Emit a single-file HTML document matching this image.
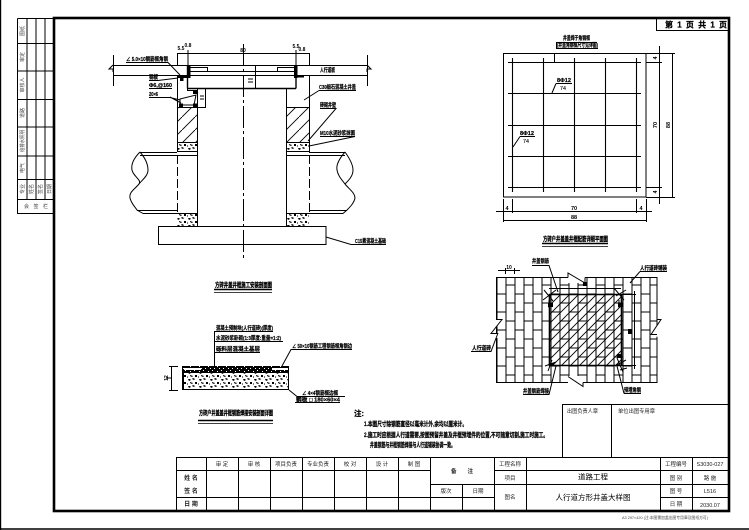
<!DOCTYPE html>
<html lang="zh">
<head>
<meta charset="utf-8">
<title>人行道方形井盖大样图</title>
<style>
html,body{margin:0;padding:0;background:#fff;width:749px;height:530px;overflow:hidden}
svg{display:block}
text{font-family:"Liberation Sans","Noto Sans CJK SC",sans-serif;fill:#000}
.b{font-weight:700;font-size:6.5px;stroke:#000;stroke-width:.25}
.s{font-size:5.5px;font-weight:700;stroke:#000;stroke-width:.2}
.n{font-size:5.5px;font-weight:400;fill:#222}
.d{font-size:5.5px;font-weight:700}
.c{font-size:6.5px;font-weight:700;fill:#000;stroke:#000;stroke-width:.3}
.g{font-size:5px;fill:#444}
.m{text-anchor:middle}
.l{fill:none;stroke:#000;stroke-width:1}
</style>
</head>
<body>
<svg width="749" height="530" viewBox="0 0 749 530" xmlns="http://www.w3.org/2000/svg">
<defs>
<pattern id="brick" patternUnits="userSpaceOnUse" x="496.5" y="275.5" width="18" height="18">
<path d="M0.5 0V18M9.5 0V18M0 0.5H9.5M9.5 9.5H18" fill="none" stroke="#000" stroke-width="1"/>
</pattern>
<pattern id="h1" patternUnits="userSpaceOnUse" width="9" height="9">
<path d="M-1 10L10 -1M-1 1L1 -1M8 10L10 8" fill="none" stroke="#000" stroke-width=".9"/>
</pattern>
<pattern id="h2" patternUnits="userSpaceOnUse" width="13" height="13">
<path d="M-1 14L14 -1" fill="none" stroke="#000" stroke-width=".9"/>
</pattern>
<pattern id="gr" patternUnits="userSpaceOnUse" width="11" height="7">
<rect width="11" height="7" fill="#fff"/>
<path d="M1 1l2 0 1 1-2 1zM6 0l2 1-1 1-2-1zM3 4l3 1-1 1-2-1zM8 4l2 0 0 2-2 0zM0 5l1 1-1 1z" fill="#000"/>
</pattern>
<pattern id="gd" patternUnits="userSpaceOnUse" width="9" height="5">
<rect width="9" height="5" fill="#000"/>
<path d="M1 1h1v1h-1zM5 0h1v1h-1zM3 3h1v1h-1zM7 3h1v1h-1z" fill="#fff"/>
</pattern>
</defs>
<rect width="749" height="530" fill="#fff"/>

<!-- page edges -->
<path d="M0.5 0V530M0 529H749" fill="none" stroke="#000" stroke-width="1.4"/>

<!-- left strip -->
<g class="l">
<path d="M17.5 18.5H54M17.5 18.5V213.5H54M27 18.5V199M36 18.5V199M45 18.5V199M17.5 43.5H54M17.5 71H54M17.5 99.5H54M17.5 127H54M17.5 156H54M17.5 179.5H54M17.5 199.5H54"/>
</g>
<g class="g">
<text transform="translate(24,31) rotate(-90)" class="g m">图纸</text>
<text transform="translate(24,57) rotate(-90)" class="g m">审定</text>
<text transform="translate(24,85) rotate(-90)" class="g m">审核人</text>
<text transform="translate(24,113) rotate(-90)" class="g m">道路</text>
<text transform="translate(24,141) rotate(-90)" class="g m" textLength="22" lengthAdjust="spacingAndGlyphs">给排水照明</text>
<text transform="translate(24,168) rotate(-90)" class="g m">电气</text>
<text transform="translate(24,189) rotate(-90)" class="g m">专业</text>
<text transform="translate(33,189) rotate(-90)" class="g m">姓名</text>
<text transform="translate(42,189) rotate(-90)" class="g m">签名</text>
<text transform="translate(51,189) rotate(-90)" class="g m">日期</text>
<text x="36" y="208" class="g m" textLength="24" lengthAdjust="spacing">会签栏</text>
</g>

<!-- main frame -->
<rect x="54" y="18" width="675" height="493" fill="none" stroke="#000" stroke-width="2.6"/>

<!-- page number box -->
<path class="l" d="M656.5 18V30.5H729"/>
<text x="665" y="27.5" class="b" style="font-size:8px" textLength="62" lengthAdjust="spacing">第 1 页   共 1 页</text>

<!-- LEFT MAIN DETAIL -->
<rect x="177.5" y="107.5" width="19.5" height="35" fill="url(#h2)"/>
<rect x="286.5" y="107.5" width="22.5" height="35" fill="url(#h2)"/>
<rect x="177.5" y="142.5" width="19.5" height="9" fill="url(#gr)"/>
<rect x="286.5" y="142.5" width="22.5" height="9" fill="url(#gr)"/>
<rect x="177.5" y="213.5" width="19.5" height="12.5" fill="url(#gr)"/>
<rect x="286.5" y="213.5" width="22.5" height="12.5" fill="url(#gr)"/>
<g class="l">
<path d="M113 65.5H367M113 75.5H187M297 75.5H367M113.5 55V86M367.5 55V86"/>
<path d="M113 65L109 69H113L113 72" />
<path d="M367 65L371 69H367L367 72"/>
<path d="M187.5 65V88.5M296 65V88.5" style="stroke-width:1.4"/>
<path d="M187 88.5H296" style="stroke-width:1.6"/>
<path d="M190 71.5H296M187 75.5H296M190 67.5H207.5V71M277.5 71V67.5H294"/>
<path d="M255.5 66V88M248 79h5M248 82h5"/>
<path d="M177.5 75V152M197.5 88V226M286.5 88V226M309.5 75V152M187.5 88V90.5H197M177 107.5H197M286 107.5H309.5M177 142.5H197M286 142.5H309.5"/>
<path d="M177 151.5H197M286 151.5H309M177 155.5H197M286 155.5H309M177 213.5H197M286 213.5H309"/>
<path d="M140 152.5H177M140 155.5H177M309 152.5H345M309 155.5H345M143 213.5H177M137 210.5H177M309 213.5H343M309 210.5H347"/>
<path d="M140 152C133 159 131 165 132 170C133 176 142 180 139 184C134 190 129 192 130 198C131 203 135 207 137 210L143 213.5"/>
<path d="M140 152C146 159 148 165 148 170C148 176 142 180 139 184"/>
<path d="M345 152C339 159 336 165 337 170C338 176 342 180 345 184C350 190 355 193 355 198C354 203 350 207 347 210L343 213.5"/>
<path d="M345 152C350 159 353 165 353 170C353 176 349 180 345 184"/>
<path d="M177.5 155V213M309.5 155V213" stroke-dasharray="9 3"/>
<path d="M243.5 44V260" stroke-dasharray="22 3 3 3"/>
<rect x="158.5" y="226.5" width="167.5" height="18"/>
<path d="M177 53.5H309M177.5 53V65M188 50V65M296 50V65M309.5 53V65"/>
<path d="M197 107.5H206M205.5 88V108M200 96h4M200 99h4"/>
<path d="M326 237L351 244.5H386"/>
<path d="M126 62.5H168L180 75"/>
<path d="M149 80.5H158L178 78M149 88.5H172M149 97.5H170L180 100M170 97L181 103"/>
<path d="M180 99L196 95L194 105L180 105Z"/>
<path d="M319 90.5H356M319 90.5L304 100M320 108.5H336L308 141M320 136.5H355L309 146"/>
</g>
<path d="M187 65h3.5v13h-3.5zM294 65h3.5v13h-3.5zM178 75h12v3h-12zM294 75h10v2.5h-10zM180 78h3.5v3h-3.5zM193 90h4v4h-4zM179 103.5h4v4h-4zM193 103.5h4v4h-4z" fill="#000"/>
<text x="181" y="50" class="d m" style="font-size:5px">5.5</text>
<text x="188" y="47" class="d m" style="font-size:5px">0.8</text>
<text x="243" y="52" class="d m" style="font-size:5px">80</text>
<text x="296" y="48" class="d m" style="font-size:5px">5.5</text>
<text x="302" y="51" class="d m" style="font-size:5px">0.8</text>
<text x="126" y="61" class="s" textLength="42" lengthAdjust="spacingAndGlyphs">∠ 5.0×10钢筋框角钢</text>
<text x="149" y="79" class="s" textLength="9" lengthAdjust="spacingAndGlyphs">钢板</text>
<text x="149" y="87" class="s" textLength="23" lengthAdjust="spacingAndGlyphs">Φ6,@160</text>
<text x="149" y="96" class="s" textLength="9" lengthAdjust="spacingAndGlyphs">20×6</text>
<text x="320" y="72" class="s" textLength="15" lengthAdjust="spacingAndGlyphs">人行道板</text>
<text x="319" y="89" class="s" textLength="37" lengthAdjust="spacingAndGlyphs">C30细石混凝土井盖</text>
<text x="320" y="107" class="s" textLength="16" lengthAdjust="spacingAndGlyphs">砖砌井壁</text>
<text x="320" y="135" class="s" textLength="35" lengthAdjust="spacingAndGlyphs">M10水泥砂浆抹面</text>
<text x="355" y="243" class="s" textLength="31" lengthAdjust="spacingAndGlyphs">C15素混凝土基础</text>
<text x="215" y="287" class="c" textLength="57" lengthAdjust="spacingAndGlyphs">方砖井盖井框施工安装剖面图</text>
<path d="M214 289.5H272" stroke="#000" stroke-width="1.4"/>
<path d="M214 292.5H272" stroke="#000" stroke-width=".8"/>

<!-- PLAN TOP RIGHT -->
<g class="l">
<rect x="503.5" y="53.5" width="142.5" height="143.5"/>
<path style="stroke-width:1.1" d="M512.5 58V192M543.5 58V192M574.5 58V192M605.5 58V192M636.5 58V192M508 62.5H641M508 93.5H641M508 125.5H641M508 156.5H641M508 187.5H641"/>
<path d="M659.5 46V204M672.5 53V197M646 53.5H675M646 62.5H662M646 187.5H662M646 197.5H675"/>
<path d="M496 211.5H652M503 220.5H646M503.5 199V222M512.5 199V213M636.5 199V213M646.5 199V222"/>
<path d="M556 42.5H597M556 48.5H598M556.5 42V48.5M554.5 53V62"/>
<path d="M556 83.5H572M556 83.5L552 93M520 136.5H535M520 136.5L513 147"/>
</g>
<text x="563" y="40" class="s" textLength="27" lengthAdjust="spacingAndGlyphs">井盖焊于角钢框</text>
<text x="557" y="47" class="s" textLength="41" lengthAdjust="spacingAndGlyphs">(井盖角钢框尺寸见详图)</text>
<text x="557" y="82" class="s" textLength="14" lengthAdjust="spacingAndGlyphs">8Φ12</text>
<text x="560" y="90" class="s" style="font-weight:400;stroke-width:.1" textLength="6" lengthAdjust="spacingAndGlyphs">74</text>
<text x="520" y="135" class="s" textLength="14" lengthAdjust="spacingAndGlyphs">8Φ12</text>
<text x="523" y="143" class="s" style="font-weight:400;stroke-width:.1" textLength="6" lengthAdjust="spacingAndGlyphs">74</text>
<text x="507" y="210" class="d m">4</text>
<text x="574" y="210" class="d m">70</text>
<text x="641" y="210" class="d m">4</text>
<text x="574" y="219" class="d m">88</text>
<text transform="translate(657,58) rotate(-90)" class="d m">4</text>
<text transform="translate(657,125) rotate(-90)" class="d m">70</text>
<text transform="translate(670,125) rotate(-90)" class="d m">88</text>
<text transform="translate(657,192) rotate(-90)" class="d m">4</text>
<text x="543" y="241" class="c" textLength="65" lengthAdjust="spacingAndGlyphs">方砖户井盖盖井框配筋详细平面图</text>
<path d="M542 243.5H608" stroke="#000" stroke-width="1.4"/>
<path d="M542 246.5H608" stroke="#000" stroke-width=".8"/>

<!-- BRICK PLAN -->
<rect x="496.5" y="277.5" width="160.5" height="105" fill="url(#brick)" stroke="#000"/>
<rect x="549.5" y="294.5" width="71.5" height="71" fill="url(#h1)"/>
<path d="M549.5 294.5H621.5V365.5H549.5Z" fill="none" stroke="#000" stroke-width="1.6"/>
<path d="M568 271h17v12h-17zM568 376h15v12h-15z" fill="#fff"/>
<path d="M490 319h11l-8 14h5v5h-8zM657.5 317v20l-6-3 9-15z" fill="#fff"/>
<g class="l">
<path d="M568 277.5V273L585 283V277.5M568 376.5L583 386.5V382.5"/>
<path d="M496 319.5H502L491 333.5H498M657 319.5H661L651 334.5H657"/>
<path d="M505.5 268V274M514.5 268V274M498 270.5H520"/>
<path d="M549 288.5H621M621 294.5H636M621 365.5H636M634.5 291V369"/>
<path d="M532 265.5H549L558 292M640 271.5H667M640 271.5L630 283M471 351.5H491L498 333M523 394.5H549L556 366M624 393.5H641M624 393.5L617 366"/>
<path d="M543 300L556 290M544 290L553 301M549 300V308M545 366L556 362M552 360L548 371M616 296L626 290M614 288L624 300M619 300V308M615 366L626 360M617 358L623 372M620 370L627 368"/>
</g>
<path d="M583 282h4v4h-4zM628 329h4v5h-4zM548 303h5v4h-5zM618 303h5v4h-5zM549 363h5v3h-5zM617 354h4v4h-4z" fill="#000"/>
<text x="509" y="269" class="d m" style="font-size:5px">10</text>
<text x="532" y="263" class="s" textLength="17" lengthAdjust="spacingAndGlyphs">井盖钢筋</text>
<text x="640" y="270" class="s" textLength="27" lengthAdjust="spacingAndGlyphs">人行道砖铺装</text>
<text x="472" y="350" class="s" textLength="19" lengthAdjust="spacingAndGlyphs">人行道砖</text>
<text x="523" y="393" class="s" textLength="26" lengthAdjust="spacingAndGlyphs">井盖钢筋焊接</text>
<text x="624" y="392" class="s" textLength="17" lengthAdjust="spacingAndGlyphs">预埋角钢</text>

<!-- SECTION -->
<rect x="182" y="366" width="107" height="24" fill="#000"/>
<rect x="183" y="366" width="105" height="6" fill="url(#gd)"/>
<rect x="184" y="368" width="17" height="2" fill="#fff"/>
<rect x="272" y="368" width="16" height="2" fill="#fff"/>
<rect x="184" y="373" width="104" height="16" fill="url(#gr)"/>
<rect x="182" y="372" width="107" height="1" fill="#000"/>
<g class="l">
<path d="M214.5 331V366M214 331.5H273M214 341.5H283M214 352.5H260"/>
<path d="M282 366L291 349.5H352M289 390L297 396.5H345M297 396V402M295 402.5H340"/>
<path d="M169 366.5H178M169 390.5H178M171.5 366V390M166 378H171"/>
</g>
<text x="216" y="330" class="s" textLength="57" lengthAdjust="spacingAndGlyphs">混凝土预制块(人行道砖)(厚度)</text>
<text x="216" y="340" class="s" textLength="65" lengthAdjust="spacingAndGlyphs">水泥砂浆卧砌(1:3厚度:重量=1:2)</text>
<text x="216" y="351" class="s" textLength="44" lengthAdjust="spacingAndGlyphs">砾料层混凝土基层</text>
<text x="292" y="348" class="s" textLength="60" lengthAdjust="spacingAndGlyphs">∠ 50×10钢筋工程钢筋框角钢边</text>
<text x="302" y="395" class="s" textLength="36" lengthAdjust="spacingAndGlyphs">∠ 4×4钢筋框边框</text>
<text x="296" y="401.5" class="s" textLength="44" lengthAdjust="spacingAndGlyphs">钢板 □ 180×60×4</text>
<text transform="translate(168,378) rotate(-90)" class="d m" style="font-size:5px">12</text>
<text x="199" y="415" class="c" textLength="74" lengthAdjust="spacingAndGlyphs">方砖户井盖盖井框钢筋焊接安装剖面详图</text>
<path d="M198 420.5H273" stroke="#000" stroke-width="1.4"/>
<path d="M198 423.5H273" stroke="#000" stroke-width=".8"/>

<!-- NOTES -->
<text x="354" y="416" class="b" style="font-size:7.5px">注:</text>
<text x="364" y="426" class="b" textLength="103" lengthAdjust="spacingAndGlyphs">1.本图尺寸除钢筋直径以毫米计外,余均以厘米计。</text>
<text x="364" y="437" class="b" textLength="184" lengthAdjust="spacingAndGlyphs">2.施工时应根据人行道需要,按图预留井盖及井框预埋件的位置,不可随意切割,施工时施工。</text>
<text x="370" y="447" class="b" textLength="85" lengthAdjust="spacingAndGlyphs">井盖钢筋与井框钢筋焊接与人行道铺装协调一致。</text>

<!-- STAMP BOX -->
<g class="l">
<path d="M562.5 457V404.5H729M611.5 404.5V457"/>
</g>
<text x="567" y="413" class="n" textLength="31" lengthAdjust="spacingAndGlyphs">出图负责人章</text>
<text x="618" y="413" class="n" textLength="37" lengthAdjust="spacingAndGlyphs">单位出图专用章</text>

<!-- TITLE BLOCK -->
<g class="l">
<path d="M176.5 457.5H729M176.5 470.5H430M494 470.5H729M430 484.5H729M176.5 497.5H494M660 497.5H729"/>
<path d="M176.5 457V511M206.5 457V511M238.5 457V511M270.5 457V511M302.5 457V511M334.5 457V511M366.5 457V511M398.5 457V511M430.5 457V511M462.5 484V511M494.5 457V511M526.5 457V511M660.5 457V511M692.5 457V511"/>
</g>
<text x="222" y="466" class="n m">审 定</text>
<text x="254" y="466" class="n m">审 核</text>
<text x="286" y="466" class="n m">项目负责</text>
<text x="318" y="466" class="n m">专业负责</text>
<text x="350" y="466" class="n m">校 对</text>
<text x="382" y="466" class="n m">设 计</text>
<text x="414" y="466" class="n m">制 图</text>
<text x="191" y="480" class="n m" style="font-size:6px;font-weight:700">姓 名</text>
<text x="191" y="493" class="n m" style="font-size:6px;font-weight:700">签 名</text>
<text x="191" y="506" class="n m" style="font-size:6px;font-weight:700">日 期</text>
<text x="462" y="473" class="n m" style="font-weight:700" textLength="22" lengthAdjust="spacing">备注</text>
<text x="446" y="493" class="n m">版次</text>
<text x="478" y="493" class="n m">日期</text>
<text x="510" y="466" class="n m">工程名称</text>
<text x="510" y="480" class="n m">项目</text>
<text x="510" y="499" class="n m">图名</text>
<text x="593" y="479.5" class="m" style="font-size:7.5px">道路工程</text>
<text x="593" y="500" class="m" style="font-size:7.5px">人行道方形井盖大样图</text>
<text x="676" y="466" class="n m">工程编号</text>
<text x="676" y="480" class="n m">图 别</text>
<text x="676" y="493" class="n m">图 号</text>
<text x="676" y="506" class="n m">日 期</text>
<text x="710" y="466" class="n m">S3030-027</text>
<text x="710" y="480" class="n m">路 施</text>
<text x="710" y="493" class="n m">L516</text>
<text x="710" y="507" class="n m">2030.07</text>
<text x="622" y="519" class="g" style="font-size:4px" textLength="86" lengthAdjust="spacingAndGlyphs">A3 297×420 (注:本图需加盖出图专用章及图纸方可)</text>
</svg>
</body>
</html>
